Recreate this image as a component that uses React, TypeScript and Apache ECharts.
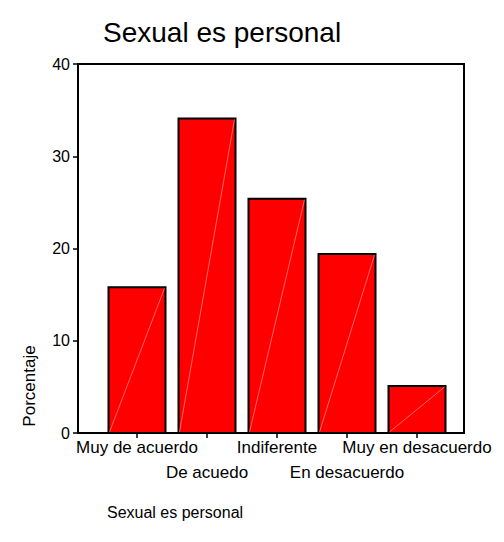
import { useEffect, useRef } from "react";
import * as echarts from "echarts";

const categories = ["Muy de acuerdo", "De acuedo", "Indiferente", "En desacuerdo", "Muy en desacuerdo"];
const percentages = [15.8, 34.1, 25.4, 19.4, 5.1];
const yMin = 0;
const yMax = 40;
const yStep = 10;
const chartTitle = "Sexual es personal";
const xAxisTitle = "Sexual es personal";
const yAxisTitle = "Porcentaje";

const FONT = "'Liberation Sans', Arial, sans-serif";

export default function App() {
  const ref = useRef<HTMLDivElement>(null);
  useEffect(() => {
    if (!ref.current) return;
    const chart = echarts.init(ref.current, null, { renderer: "svg" });
    const barData = categories.map((c, i) => [i, percentages[i]]);
    chart.setOption({
      animation: false,
      backgroundColor: "#ffffff",
      textStyle: { fontFamily: FONT },
      title: [
        {
          text: chartTitle,
          left: 103,
          top: 18,
          padding: 0,
          textStyle: { fontFamily: FONT, fontSize: 28, fontWeight: "normal", color: "#000" },
        },
        {
          text: xAxisTitle,
          left: 107,
          top: 504,
          padding: 0,
          textStyle: { fontFamily: FONT, fontSize: 16, fontWeight: "normal", color: "#000" },
        },
      ],
      grid: [
        { left: 78, top: 64, width: 386, height: 369, show: true, borderColor: "#000", borderWidth: 2, backgroundColor: "transparent" },
        { left: 102, top: 64, width: 350, height: 369 },
      ],
      xAxis: [
        {
          gridIndex: 0,
          type: "value",
          min: 0,
          max: 1,
          axisLine: { show: true, lineStyle: { color: "#000", width: 2 } },
          axisTick: { show: false },
          axisLabel: { show: false },
          splitLine: { show: false },
        },
        {
          gridIndex: 1,
          type: "category",
          data: categories,
          boundaryGap: true,
          axisLine: { show: false },
          axisTick: { show: true, alignWithLabel: true, length: 5, lineStyle: { color: "#000", width: 1.5 } },
          axisLabel: {
            interval: 0,
            margin: 2,
            color: "#000",
            fontFamily: FONT,
            fontSize: 17,
            lineHeight: 25,
            formatter: (v: string, i: number) => (i % 2 === 1 ? "\n" + v : v),
          },
          splitLine: { show: false },
        },
      ],
      yAxis: [
        {
          gridIndex: 0,
          type: "value",
          min: yMin,
          max: yMax,
          interval: yStep,
          axisLine: { show: true, lineStyle: { color: "#000", width: 2 } },
          axisTick: { show: true, length: 5, lineStyle: { color: "#000", width: 1.5 } },
          axisLabel: { margin: 8, color: "#000", fontFamily: FONT, fontSize: 16 },
          splitLine: { show: false },
        },
        {
          gridIndex: 1,
          type: "value",
          min: yMin,
          max: yMax,
          show: false,
          splitLine: { show: false },
        },
      ],
      graphic: [
        {
          type: "text",
          x: 29,
          y: 386,
          rotation: Math.PI / 2,
          style: {
            text: yAxisTitle,
            fontFamily: FONT,
            fontSize: 17,
            fill: "#000",
            textAlign: "center",
            textVerticalAlign: "middle",
          },
        },
      ],
      series: [
        {
          type: "custom",
          xAxisIndex: 1,
          yAxisIndex: 1,
          data: barData,
          renderItem: (params: any, api: any) => {
            const x = api.value(0);
            const y = api.value(1);
            const top = api.coord([x, y]);
            const base = api.coord([x, 0]);
            const w = api.size([1, 0])[0] * (57 / 70);
            const left = top[0] - w / 2;
            return {
              type: "group",
              children: [
                {
                  type: "rect",
                  shape: { x: left, y: top[1], width: w, height: base[1] - top[1] },
                  style: { fill: "#ff0000", stroke: "#000", lineWidth: 2 },
                },
                {
                  type: "line",
                  shape: { x1: left + 1, y1: base[1] - 1, x2: left + w - 1, y2: top[1] + 1 },
                  style: { stroke: "rgba(255,190,190,0.9)", lineWidth: 0.6 },
                },
              ],
            };
          },
        },
      ],
    });
    return () => chart.dispose();
  }, []);
  return <div ref={ref} style={{ position: "fixed", left: 0, top: 0, width: 504, height: 542 }} />;
}
